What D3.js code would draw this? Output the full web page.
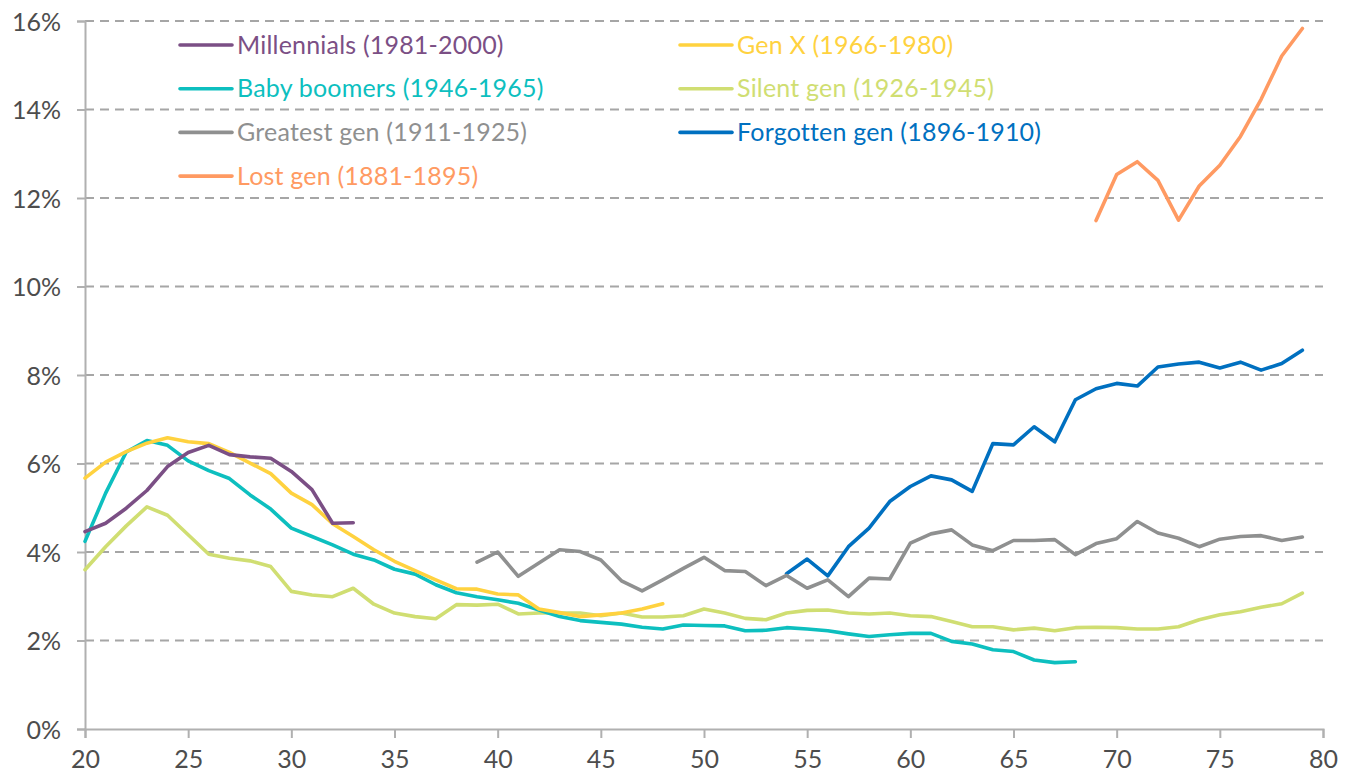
<!DOCTYPE html>
<html>
<head>
<meta charset="utf-8">
<script src="https://cdn.jsdelivr.net/npm/d3@7"></script>
<style>
  body { margin: 0; background: #fff; }
  text { font-family: Lato, "Noto Sans", sans-serif; }
</style>
</head>
<body>
<div id="vis"></div>
<script>
const w = 1352;
const h = 778;
const margin = ({
    top: 21,
    right: 29,
    bottom: 49,
    left: 85
});

// share of people moving, by age (%), one array per generation
const millennials = [4.46, 4.65, 4.99, 5.39, 5.93, 6.25, 6.41, 6.2, 6.15, 6.12, 5.82, 5.41, 4.65, 4.66];
const genX = [5.67, 6.03, 6.27, 6.46, 6.58, 6.49, 6.45, 6.25, 6.01, 5.77,
    5.33, 5.07, 4.64, 4.35, 4.05, 3.79, 3.58, 3.37, 3.17, 3.16,
    3.05, 3.03, 2.71, 2.63, 2.54, 2.58, 2.62, 2.71, 2.83];
const boomers = [4.24, 5.33, 6.26, 6.52, 6.41, 6.06, 5.84, 5.66, 5.29, 4.97,
    4.54, 4.35, 4.16, 3.95, 3.82, 3.61, 3.5, 3.26, 3.08, 2.99,
    2.92, 2.84, 2.69, 2.54, 2.45, 2.41, 2.37, 2.3, 2.26, 2.35,
    2.34, 2.33, 2.22, 2.23, 2.29, 2.26, 2.22, 2.15, 2.09, 2.13,
    2.16, 2.16, 1.98, 1.92, 1.79, 1.75, 1.56, 1.5, 1.52];
const silent = [3.6, 4.12, 4.59, 5.02, 4.83, 4.39, 3.95, 3.86, 3.8, 3.67,
    3.11, 3.03, 2.99, 3.18, 2.82, 2.62, 2.54, 2.49, 2.81, 2.8,
    2.82, 2.6, 2.62, 2.62, 2.62, 2.56, 2.62, 2.53, 2.53, 2.56,
    2.71, 2.62, 2.5, 2.47, 2.62, 2.68, 2.69, 2.62, 2.6, 2.62,
    2.56, 2.54, 2.43, 2.31, 2.31, 2.24, 2.28, 2.22, 2.29, 2.3,
    2.29, 2.26, 2.26, 2.31, 2.47, 2.58, 2.65, 2.75, 2.83, 3.07];
const greatest = [3.77, 4.0, 3.45, 3.75, 4.05, 4.01, 3.82, 3.35, 3.12, 3.37, 3.63,
    3.88, 3.58, 3.56, 3.24, 3.47, 3.18, 3.37, 2.99, 3.41, 3.39,
    4.2, 4.41, 4.5, 4.16, 4.03, 4.26, 4.26, 4.28, 3.94, 4.19,
    4.3, 4.69, 4.43, 4.31, 4.12, 4.29, 4.35, 4.37, 4.26, 4.34];
const forgotten = [3.51, 3.84, 3.46, 4.12, 4.54, 5.14, 5.48, 5.72, 5.63, 5.37,
    6.45, 6.42, 6.83, 6.49, 7.44, 7.69, 7.81, 7.75, 8.18, 8.25,
    8.29, 8.16, 8.29, 8.11, 8.26, 8.56];
const lost = [11.49, 12.53, 12.82, 12.4, 11.5, 12.27, 12.74, 13.39, 14.23, 15.21, 15.83];

const names = ["Millennials (1981-2000)", "Gen X (1966-1980)", "Baby boomers (1946-1965)",
    "Silent gen (1926-1945)", "Greatest gen (1911-1925)", "Forgotten gen (1896-1910)",
    "Lost gen (1881-1895)"];
const startAges = [20, 20, 20, 20, 39, 54, 69];
const values = [millennials, genX, boomers, silent, greatest, forgotten, lost];
const colors = ["#7b4f85", "#ffd23f", "#0dbfbf", "#d0de72", "#8f9090", "#0070c0", "#ff9a62"];

const xTicks = [20, 25, 30, 35, 40, 45, 50, 55, 60, 65, 70, 75, 80];
const yTicks = [0, 2, 4, 6, 8, 10, 12, 14, 16];

const series = names.map((name, i) => ({
    name: name,
    color: colors[i],
    points: values[i].map((v, j) => ({age: startAges[i] + j, value: v}))
}));

const svg = d3.select('#vis')
    .append('svg')
    .attr('width', w)
    .attr('height', h)

let xScale = d3.scaleLinear()
    .domain([20, 80])
    .range([margin.left, w - margin.right]);

let yScale = d3.scaleLinear()
    .domain([0, 16])
    .range([h - margin.bottom, margin.top]);

// dashed gridlines
svg.append('g')
    .selectAll('line')
    .data(yTicks.filter(d => d > 0))
    .join('line')
    .attr('x1', margin.left)
    .attr('x2', w - margin.right)
    .attr('y1', d => yScale(d))
    .attr('y2', d => yScale(d))
    .attr('stroke', '#a6a6a6')
    .attr('stroke-width', 2)
    .attr('stroke-dasharray', '9,6');

let yAxis = d3.axisLeft()
    .scale(yScale)
    .tickValues(yTicks)
    .tickFormat(d => d + '%')
    .tickSize(8)
    .tickPadding(16);

let xAxis = d3.axisBottom()
    .scale(xScale)
    .tickValues(xTicks)
    .tickSize(9)
    .tickPadding(12);

let gy = svg.append('g')
    .attr('class', 'y axis')
    .attr('transform', 'translate(' + margin.left + ', 0)')
    .call(yAxis);

let gx = svg.append('g')
    .attr('class', 'x axis')
    .attr('transform', 'translate(0, ' + (h - margin.bottom) + ')')
    .call(xAxis);

[gx, gy].forEach(g => {
    g.select('.domain').attr('stroke', '#b0b0b0').attr('stroke-width', 2);
    g.selectAll('.tick line').attr('stroke', '#b0b0b0').attr('stroke-width', 2);
    g.selectAll('.tick text')
        .attr('fill', '#4d4d4d')
        .attr('font-size', '25px')
        .attr('font-family', 'Lato, sans-serif');
});
gy.selectAll('.tick text').attr('dy', '0.36em');

let line = d3.line()
    .x(d => xScale(d.age))
    .y(d => yScale(d.value));

svg.append('g')
    .selectAll('path')
    .data(series.slice().reverse())
    .join('path')
    .attr('d', d => line(d.points))
    .attr('fill', 'none')
    .attr('stroke', d => d.color)
    .attr('stroke-width', 3.6)
    .attr('stroke-linejoin', 'round')
    .attr('stroke-linecap', 'round');

// legend, two columns
let legend = svg.append('g')
    .selectAll('g')
    .data(series)
    .join('g')
    .attr('transform', (d, i) => 'translate(' + (i % 2 === 0 ? 180 : 680) + ',' + (45 + Math.floor(i / 2) * 43.7) + ')');

legend.append('line')
    .attr('x1', 0)
    .attr('x2', 52)
    .attr('stroke', d => d.color)
    .attr('stroke-width', 3.6)
    .attr('stroke-linecap', 'round');

legend.append('text')
    .attr('x', 57)
    .attr('dy', '0.35em')
    .text(d => d.name)
    .attr('fill', d => d.color)
    .attr('font-size', '25px')
    .attr('letter-spacing', '0.2px');
</script>
</body>
</html>
